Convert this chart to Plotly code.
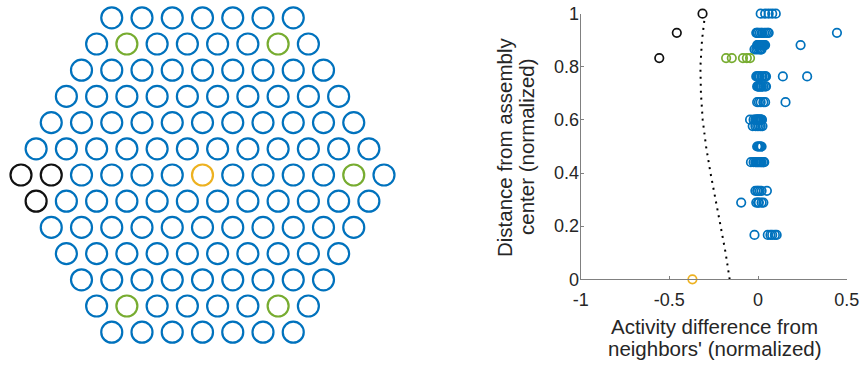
import plotly.graph_objects as go

# ---- Assembly layout: pins per row (top to bottom) and highlighted pins ----
row_counts = [7, 8, 9, 10, 11, 12, 13, 12, 11, 10, 9, 8, 7]
black_pins = [(6, 0), (6, 1), (7, 0)]
green_pins = [(1, 1), (1, 6), (6, 11), (11, 1), (11, 6)]
orange_pins = [(6, 6)]

# ---- Scatter data: distance from centre (normalized) vs activity difference ----
blue_dist = [1.0, 0.928, 0.882, 0.866, 0.764, 0.726, 0.667,
             0.601, 0.577, 0.5, 0.441, 0.333, 0.289, 0.167]
blue_diff = [
    [0.015, 0.04, 0.06, 0.08, 0.1],
    [-0.01, -0.005, 0.0, 0.01, 0.02, 0.025, 0.035, 0.045, 0.055, 0.06, 0.445],
    [-0.005, 0.0, 0.005, 0.01, 0.01, 0.015, 0.02, 0.025, 0.03, 0.035, 0.04, 0.24],
    [-0.02, -0.01, 0.0, 0.01, 0.015, 0.02],
    [-0.01, -0.005, 0.0, 0.005, 0.01, 0.02, 0.025, 0.035, 0.04, 0.045, 0.14, 0.277],
    [-0.005, 0.0, 0.0, 0.005, 0.01, 0.01, 0.015, 0.02, 0.02, 0.03, 0.04, 0.045],
    [-0.005, 0.005, 0.015, 0.03, 0.04, 0.155],
    [-0.045, -0.025, -0.015, -0.01, -0.005, 0.0, 0.0, 0.005, 0.01, 0.015, 0.02, 0.022],
    [-0.03, -0.015, -0.005, 0.005, 0.015, 0.025],
    [-0.005, 0.0, 0.005, 0.01, 0.015, 0.02],
    [-0.04, -0.025, -0.015, -0.01, -0.005, 0.0, 0.005, 0.01, 0.015, 0.02, 0.03, 0.035],
    [-0.015, -0.005, 0.0, 0.01, 0.02, 0.05],
    [-0.095, -0.01, 0.0, 0.005, 0.02, 0.03],
    [-0.02, 0.055, 0.07, 0.08, 0.095, 0.105],
]
green_dist = [0.833, 0.833, 0.833, 0.833, 0.833]
green_diff = [-0.18, -0.148, -0.085, -0.063, -0.045]
black_dist = [1.0, 0.928, 0.833]
black_diff = [-0.313, -0.458, -0.557]
orange_dist = [0.0]
orange_diff = [-0.37]

# Trend curve (dotted)
trend_dist = [0.0, 0.1, 0.2, 0.3, 0.4, 0.5, 0.6, 0.7, 0.8, 0.9, 0.98]
trend_diff = [-0.160, -0.183, -0.211, -0.241, -0.268, -0.293, -0.312, -0.322,
              -0.325, -0.316, -0.302]

BLUE = "#0072BD"
GREEN = "#77AC30"
ORANGE = "#EDB120"
BLACK = "#111111"
FONT = "Liberation Sans, Arial, Helvetica, sans-serif"

# ---- Pin coordinates on a hexagonal lattice ----
SQ3 = 3 ** 0.5 / 2
mid = len(row_counts) // 2
pin_x, pin_y, pin_c = [], [], []
for r, n in enumerate(row_counts):
    for k in range(n):
        pin_x.append(-(n - 1) / 2 + k)
        pin_y.append((mid - r) * SQ3)
        if (r, k) in black_pins:
            pin_c.append(BLACK)
        elif (r, k) in green_pins:
            pin_c.append(GREEN)
        elif (r, k) in orange_pins:
            pin_c.append(ORANGE)
        else:
            pin_c.append(BLUE)

fig = go.Figure()

fig.add_trace(go.Scatter(
    x=pin_x, y=pin_y, mode="markers", xaxis="x", yaxis="y",
    marker=dict(symbol="circle-open", size=21, color=pin_c,
                line=dict(width=2.2, color=pin_c)),
    hoverinfo="skip", showlegend=False, cliponaxis=False))

# ---- Scatter panel ----
bx = [v for row in blue_diff for v in row]
by = [d for d, row in zip(blue_dist, blue_diff) for _ in row]


def ring(x, y, color):
    return go.Scatter(
        x=x, y=y, mode="markers", xaxis="x2", yaxis="y2",
        marker=dict(symbol="circle-open", size=8.5, color=color,
                    line=dict(width=1.7, color=color)),
        showlegend=False, cliponaxis=False)


fig.add_trace(go.Scatter(
    x=trend_diff, y=trend_dist, mode="lines", xaxis="x2", yaxis="y2",
    line=dict(color="black", width=2, dash="2px,5px"),
    showlegend=False))
fig.add_trace(ring(bx, by, BLUE))
fig.add_trace(ring(green_diff, green_dist, GREEN))
fig.add_trace(ring(black_diff, black_dist, BLACK))
fig.add_trace(ring(orange_diff, orange_dist, ORANGE))

W, H = 861, 366
ax_l, ax_r = 580.7, 846.7
ax_t, ax_b = 13.7, 279.3

axis_common = dict(
    showline=True, linecolor="#808080", linewidth=1,
    ticks="inside", ticklen=3, tickcolor="#808080", tickwidth=1,
    showgrid=False, zeroline=False, automargin=False,
    tickfont=dict(family=FONT, size=18, color="#262626"),
)

fig.update_layout(
    width=W, height=H, autosize=False,
    margin=dict(l=0, r=0, t=0, b=0, pad=0, autoexpand=False),
    paper_bgcolor="white", plot_bgcolor="white",
    font=dict(family=FONT, color="#262626"),
    xaxis=dict(domain=[0, 410 / W], range=[-202.5 / 30.25, (410 - 202.5) / 30.25],
               visible=False, fixedrange=True, automargin=False),
    yaxis=dict(domain=[0, 1], range=[-(H - 175) / 30.25, 175 / 30.25],
               visible=False, fixedrange=True, automargin=False),
    xaxis2=dict(domain=[ax_l / W, ax_r / W], range=[-1, 0.5], anchor="y2",
                tickvals=[-1, -0.5, 0, 0.5], ticktext=["-1", "-0.5", "0", "0.5"],
                ticklabelstandoff=4, **axis_common),
    yaxis2=dict(domain=[(H - ax_b) / H, (H - ax_t) / H], range=[0, 1], anchor="x2",
                tickvals=[0, 0.2, 0.4, 0.6, 0.8, 1],
                ticktext=["0", "0.2", "0.4", "0.6", "0.8", "1"],
                ticklabelstandoff=-3, **axis_common),
)

title_font = dict(family=FONT, size=20.5, color="#262626")
annos = [
    dict(text="Activity difference from", x=714 / W, y=(H - 326) / H),
    dict(text="neighbors' (normalized)", x=715 / W, y=(H - 348) / H),
    dict(text="Distance from assembly", x=504 / W, y=(H - 147) / H, textangle=-90),
    dict(text="center (normalized)", x=526 / W, y=(H - 147) / H, textangle=-90),
]
for a in annos:
    fig.add_annotation(xref="paper", yref="paper", showarrow=False,
                       xanchor="center", yanchor="middle", font=title_font, **a)

fig.write_html("out.html", config=dict(responsive=False))
